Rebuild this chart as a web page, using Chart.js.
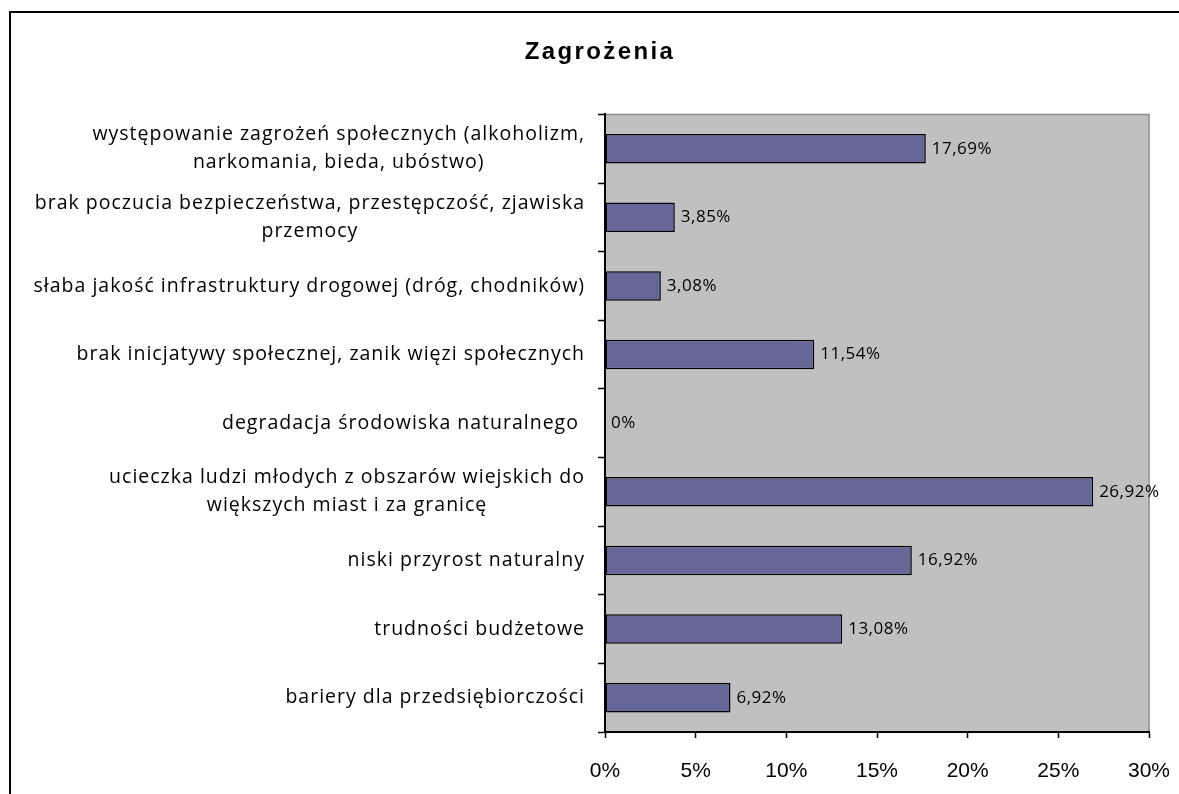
<!DOCTYPE html>
<html>
<head>
<meta charset="utf-8">
<script src="https://cdn.jsdelivr.net/npm/chart.js@4/dist/chart.umd.min.js"></script>
<style>
  html, body { margin: 0; padding: 0; background: #fff; }
  #wrap { position: relative; width: 1179px; height: 794px; overflow: hidden; }
  #frame { position: absolute; left: 9px; top: 11px; width: 1200px; height: 800px; border: 2px solid #000; box-sizing: border-box; }
  canvas { position: absolute; left: 0; top: 0; }
</style>
</head>
<body>
<div id="wrap">
  <div id="frame"></div>
  <canvas id="threatChart" width="1179" height="794"></canvas>
</div>
<script>
// categories (top to bottom) and their shares in %
const categories = [
    ['występowanie zagrożeń społecznych (alkoholizm,', 'narkomania, bieda, ubóstwo)'],
    ['brak poczucia bezpieczeństwa, przestępczość, zjawiska', 'przemocy'],
    'słaba jakość infrastruktury drogowej (dróg, chodników)',
    'brak inicjatywy społecznej, zanik więzi społecznych',
    'degradacja środowiska naturalnego ',
    ['ucieczka ludzi młodych z obszarów wiejskich do', 'większych miast i za granicę'],
    'niski przyrost naturalny',
    'trudności budżetowe',
    'bariery dla przedsiębiorczości'
];
const shares = [17.69, 3.85, 3.08, 11.54, 0, 26.92, 16.92, 13.08, 6.92];
const xTicks = [0, 5, 10, 15, 20, 25, 30];
const chartTitle = 'Zagrożenia';

const labelFont = '19.5px "Open Sans"';
const labelSpacing = '1px';

function fmtShare(v) {
    if (v === 0) return '0%';
    return v.toFixed(2).replace('.', ',') + '%';
}

// gray plot background
const plotBg = {
    id: 'plotBg',
    beforeDraw(chart) {
        const a = chart.chartArea;
        const ctx = chart.ctx;
        ctx.save();
        ctx.fillStyle = '#c0c0c0';
        ctx.fillRect(a.left, a.top, a.right - a.left, a.bottom - a.top);
        ctx.strokeStyle = '#8c8c8c';
        ctx.lineWidth = 1.5;
        ctx.beginPath();
        ctx.moveTo(a.left, a.top);
        ctx.lineTo(a.right, a.top);
        ctx.lineTo(a.right, a.bottom);
        ctx.stroke();
        ctx.restore();
    }
};

// category labels: block right aligned, lines centred inside the block
const catLabels = {
    id: 'catLabels',
    afterDraw(chart) {
        const y = chart.scales.y;
        const ctx = chart.ctx;
        ctx.save();
        ctx.font = labelFont;
        ctx.letterSpacing = labelSpacing;
        ctx.fillStyle = '#000';
        ctx.textAlign = 'center';
        ctx.textBaseline = 'middle';
        const right = chart.chartArea.left - 20;
        const lh = 28;
        categories.forEach((lab, i) => {
            const lines = Array.isArray(lab) ? lab : [lab];
            const w = Math.max(...lines.map(l => ctx.measureText(l).width));
            const cx = right - w / 2;
            const cy = y.getPixelForValue(i);
            lines.forEach((l, j) => {
                ctx.fillText(l, cx, cy + (j - (lines.length - 1) / 2) * lh);
            });
        });

        // title, drawn here to get the wide letter spacing
        const t = chart.titleBlock;
        ctx.font = 'bold 24px Arial, "Liberation Sans"';
        ctx.letterSpacing = '2.4px';
        ctx.fillText(chartTitle, 600, t.top + t.height / 2 - 5);
        ctx.restore();
    }
};

// value labels next to bars
const valueLabels = {
    id: 'valueLabels',
    afterDatasetsDraw(chart) {
        const ctx = chart.ctx;
        const meta = chart.getDatasetMeta(0);
        ctx.save();
        ctx.font = '17px "Open Sans"';
        ctx.letterSpacing = '0.5px';
        ctx.fillStyle = '#000';
        ctx.textAlign = 'left';
        ctx.textBaseline = 'middle';
        meta.data.forEach((bar, i) => {
            ctx.fillText(fmtShare(shares[i]), bar.x + 6, bar.y);
        });
        ctx.restore();
    }
};

const ctx = document.getElementById('threatChart').getContext('2d');
const threatChart = new Chart(ctx, {
    type: 'bar',
    data: {
        labels: categories,
        datasets: [{
            data: shares,
            backgroundColor: '#666699',
            borderColor: '#000',
            borderWidth: 1.5,
            borderSkipped: false,
            barPercentage: 0.43,
            categoryPercentage: 1
        }]
    },
    options: {
        indexAxis: 'y',
        responsive: false,
        animation: false,
        layout: {
            padding: { left: 9, right: 30, top: 0, bottom: 0 }
        },
        plugins: {
            legend: { display: false },
            tooltip: { enabled: false },
            title: {
                display: true,
                text: chartTitle,
                color: 'rgba(0,0,0,0)',
                font: { family: 'Arial, "Liberation Sans"', size: 22, weight: 'bold' },
                padding: { top: 42, bottom: 46 }
            }
        },
        scales: {
            x: {
                min: 0,
                max: 30,
                afterBuildTicks(scale) {
                    scale.ticks = xTicks.map(v => ({ value: v }));
                },
                afterFit(scale) {
                    scale.height = 62;
                    scale.paddingLeft = 0;
                    scale.paddingRight = 0;
                },
                grid: {
                    drawOnChartArea: false,
                    drawTicks: true,
                    tickLength: 6,
                    tickWidth: 1.5,
                    tickColor: '#000'
                },
                border: { color: '#000', width: 2 },
                ticks: {
                    color: '#000',
                    padding: 21,
                    font: { family: 'Arial, "Liberation Sans"', size: 21 },
                    callback: v => v + '%'
                }
            },
            y: {
                afterFit(scale) { scale.width = 596; },
                grid: {
                    drawOnChartArea: false,
                    drawTicks: true,
                    tickLength: 7,
                    tickWidth: 1.5,
                    tickColor: '#000',
                    offset: true
                },
                border: { color: '#000', width: 2 },
                ticks: { display: false }
            }
        }
    },
    plugins: [plotBg, catLabels, valueLabels]
});
</script>
</body>
</html>
